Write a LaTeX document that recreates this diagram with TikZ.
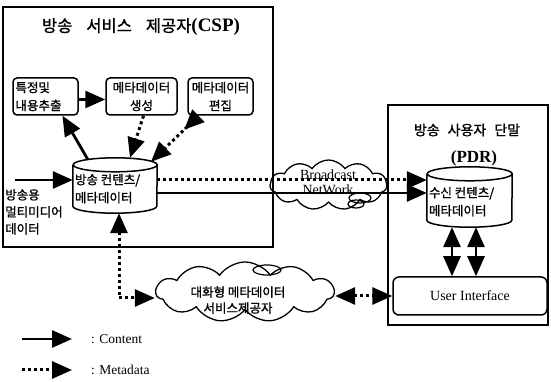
\documentclass[tikz,border=0pt]{standalone}
\usepackage{fontspec}
\setmainfont{Liberation Serif}
\newfontfamily\kr[FakeBold=1.2]{Noto Sans CJK KR}
\usetikzlibrary{arrows.meta,shapes.symbols}
\begin{document}
\begin{tikzpicture}[x=1pt,y=1pt,
  bighead/.tip={Triangle[length=20pt,width=17pt]},
  revhead/.tip={Triangle[reversed,length=20pt,width=17pt]},
  sol/.style={line width=2.8pt},
  dots/.style={line width=3pt, dash pattern=on 3pt off 3pt},
  box/.style={draw, line width=1.5pt, rounded corners=4pt, inner sep=1pt},
  frame/.style={draw, line width=1.7pt},
  cylbox/.style={draw=none, inner sep=0pt},
  cloudy/.style={cloud, draw, line width=1.3pt, cloud puffs=11, cloud puff arc=110, aspect=2.3, inner sep=0pt},
  krtext/.style={font=\kr\fontsize{12.5}{18}\selectfont, inner sep=0pt},
  lat/.style={font=\fontsize{14}{15}\selectfont, inner sep=0pt},
]
\useasboundingbox (0,0) rectangle (551,382);

% frames
\node[frame, minimum width=270pt, minimum height=240pt] (csp) at (138,255) {};
\node[frame, minimum width=160pt, minimum height=220pt] (pdr) at (468,167) {};

% titles
\node[inner sep=0pt] (csptitle) at (141,355) {\kr\fontsize{16.5}{18}\selectfont 방송\hspace{14pt}서비스\hspace{14pt}제공자\fontspec{Liberation Serif}\bfseries\fontsize{19}{20}\selectfont(CSP)};
\node[krtext, font=\kr\fontsize{14}{16}\selectfont] (pdrtitle) at (467,252) {방송\hspace{8pt}사용자\hspace{8pt}단말};
\node[inner sep=0pt, font=\bfseries\fontsize{17}{20}\selectfont] (pdrlabel) at (474,224) {(PDR)};

% CSP boxes
\node[box, krtext, inner sep=1pt, minimum width=65pt, minimum height=37pt, text width=60pt, align=left] (b1) at (45.5,285.5) {특정및\\내용추출};
\node[box, krtext, inner sep=1pt, minimum width=71pt, minimum height=37pt, align=center] (b2) at (141.5,285.5) {메타데이터\\생성};
\node[box, krtext, inner sep=1pt, minimum width=65pt, minimum height=37pt, align=center] (b3) at (220.5,285.5) {메타데이터\\편집};

% cylinders
\node[cylbox, minimum width=84pt, minimum height=55pt] (c1) at (115,196.5) {};
\draw[line width=1.5pt] ([yshift=-7pt]c1.north west) -- ([yshift=7pt]c1.south west)
  arc[start angle=180,end angle=360,x radius=42pt,y radius=7pt]
  -- ([yshift=-7pt]c1.north east)
  arc[start angle=0,end angle=360,x radius=42pt,y radius=7pt];
\node[krtext, anchor=north west, align=left] (c1t) at ([xshift=2pt,yshift=-16pt]c1.north west) {방송 컨텐츠/\\메타데이터};

\node[cylbox, minimum width=85pt, minimum height=60pt] (c2) at (469.5,185) {};
\draw[line width=1.5pt] ([yshift=-7pt]c2.north west) -- ([yshift=7pt]c2.south west)
  arc[start angle=180,end angle=360,x radius=42.5pt,y radius=7pt]
  -- ([yshift=-7pt]c2.north east)
  arc[start angle=0,end angle=360,x radius=42.5pt,y radius=7pt];
\node[krtext, anchor=north west, align=left] (c2t) at ([xshift=2pt,yshift=-20pt]c2.north west) {수신 컨텐츠/\\메타데이터};

% input
\coordinate (in1) at (15,202);
\node[krtext, font=\kr\fontsize{12.5}{17}\selectfont, anchor=north west, align=left] (intext) at (5,193) {방송용\\멀티미디어\\데이터};

% clouds
\node[cloudy, minimum width=117pt, minimum height=50pt] (bc) at (328.5,197) {};
\draw[line width=1.2pt] (360,184) ellipse [x radius=11pt, y radius=5pt];
\draw[line width=1.2pt] (356,178) ellipse [x radius=8pt, y radius=4pt];
\node[lat, align=center, font=\fontsize{14}{15}\selectfont] (bct) at (328,200) {Broadcast\\NetWork};

\node[cloudy, minimum width=178pt, minimum height=60pt] (ic) at (245,90) {};
\draw[line width=1.2pt] (267,112) ellipse [x radius=14pt, y radius=5pt];
\node[krtext, font=\kr\fontsize{12.5}{16}\selectfont, align=center] (ict) at (238,82) {대화형 메타데이터\\서비스제공자};

% user interface
\node[box, rounded corners=6pt, minimum width=154pt, minimum height=38pt, lat] (ui) at (470,86) {User Interface};

% connectors
\draw[sol,-bighead] ([xshift=-27pt,yshift=-2pt]c1.north) -- ([xshift=17pt]b1.south);
\draw[sol,-bighead] ([yshift=-3pt]b1.east) -- ([yshift=-3pt]b2.west);
\draw[dots,-bighead] ([xshift=2pt]b2.south) -- ([xshift=15pt]c1.north);
\draw[dots,revhead-bighead] ([xshift=-22pt]b3.south) -- ([xshift=36pt,yshift=-4pt]c1.north);
\draw[sol,-bighead] (in1) -- (in1 -| c1.west);
\draw[dots,-bighead] ([yshift=5.5pt]c1.east) -- ([yshift=17pt]c2.west);
\draw[sol,-bighead] ([yshift=-7.5pt]c1.east) -- ([yshift=4pt]c2.west);
\draw[dots,bighead-bighead] ([xshift=4pt]c1.south) |- ([yshift=-6pt]ic.west);
\draw[dots,bighead-bighead] (ic.east |- ui.west) -- (ui.west);
\draw[sol,bighead-bighead] ([xshift=-17.5pt]c2.south) -- ([xshift=-17.5pt]c2.south |- ui.north);
\draw[sol,bighead-bighead] ([xshift=6.5pt]c2.south) -- ([xshift=6.5pt]c2.south |- ui.north);

% legend
\coordinate (l1a) at (22,43);
\coordinate (l1b) at (72,43);
\coordinate (l2a) at (22,12);
\coordinate (l2b) at (72,12);
\draw[sol,-bighead] (l1a) -- (l1b);
\draw[dots,-bighead] (l2a) -- (l2b);
\node[anchor=west, inner sep=0pt, font=\fontsize{13.5}{15}\selectfont] (l1t) at (91,43) {: Content};
\node[anchor=west, inner sep=0pt, font=\fontsize{13.5}{15}\selectfont] (l2t) at (91,12) {: Metadata};
\end{tikzpicture}
\end{document}
